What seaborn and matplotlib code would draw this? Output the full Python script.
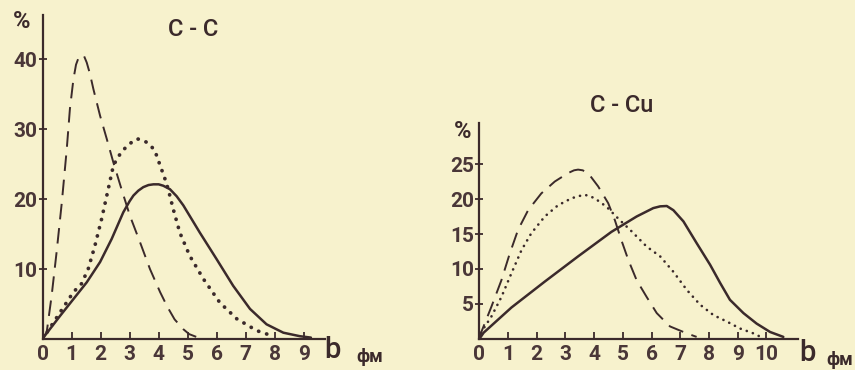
import matplotlib
matplotlib.use("Agg")
import matplotlib.pyplot as plt
import seaborn as sns
import pandas as pd

# C-C panel, impact parameter b (fm) vs percent
cc_dash_b = [0, 0.14, 0.31, 0.48, 0.66, 0.83, 0.94, 1.06, 1.15, 1.23, 1.34, 1.43, 1.52, 1.63, 1.75, 1.98,
             2.21, 2.44, 2.72, 3.01, 3.36, 3.7, 4.05, 4.3, 4.55, 4.85, 5.05, 5.3]
cc_dash_y = [0, 1.0, 6.2, 12.4, 19.5, 27.1, 32.9, 37.1, 39.2, 40.1, 40.6, 40.4, 39.5, 37.9, 35.7, 31.9,
             28.6, 25.2, 21.4, 17.6, 13.8, 10.0, 6.7, 4.6, 2.8, 1.4, 0.7, 0.3]

cc_dot_b = [0, 0.3, 0.6, 1.06, 1.34, 1.57, 1.8, 2.03, 2.26, 2.44, 2.6, 2.72, 2.87, 3.01, 3.12, 3.24, 3.4, 3.59,
            3.75, 3.87, 4.05, 4.2, 4.33, 4.5, 4.73, 5.07, 5.54, 6.11, 6.69, 7.38, 7.95]
cc_dot_y = [0, 1.9, 3.8, 6.7, 7.9, 10.0, 13.3, 17.1, 21.4, 24.8, 26.0, 26.7, 27.4, 27.9, 28.3, 28.6, 28.5, 28.1,
            27.5, 26.9, 24.8, 23.1, 21.4, 18.6, 15.2, 11.9, 8.6, 5.2, 2.9, 1.2, 0.4]

cc_solid_b = [0, 0.08, 0.6, 1.06, 1.52, 1.98, 2.38, 2.78, 3.0, 3.13, 3.3, 3.47, 3.65, 3.82, 4.0, 4.16, 4.39,
              4.62, 4.85, 5.42, 6.0, 6.57, 7.15, 7.72, 8.3, 8.87, 9.25]
cc_solid_y = [0, 0.5, 3.3, 5.7, 8.1, 11.0, 14.3, 18.1, 19.7, 20.5, 21.2, 21.7, 22.0, 22.1, 22.1, 21.9, 21.4,
              20.4, 19.1, 15.2, 11.4, 7.6, 4.3, 2.1, 0.9, 0.4, 0.2]

# C-Cu panel
ccu_dash_b = [0, 0.07, 0.42, 0.77, 1.06, 1.35, 1.7, 2.16, 2.63, 3.09, 3.3, 3.44, 3.6, 3.79, 4.14, 4.49,
              4.72, 4.95, 5.19, 5.48, 5.83, 6.18, 6.64, 7.23, 7.57]
ccu_dash_y = [0, 1.0, 4.6, 8.4, 12.2, 15.6, 18.4, 20.8, 22.5, 23.7, 24.1, 24.2, 24.1, 23.7, 21.8, 19.4,
              17.0, 14.1, 11.3, 8.4, 6.0, 3.7, 1.8, 0.8, 0.3]

ccu_dot_b = [0, 0.07, 0.42, 0.77, 1.12, 1.47, 1.81, 2.28, 2.74, 3.21, 3.45, 3.67, 3.85, 4.02, 4.43, 4.84,
             5.3, 5.83, 6.3, 6.76, 7.23, 7.69, 8.16, 8.62, 9.08, 9.55, 9.8]
ccu_dot_y = [0, 1.0, 3.2, 6.0, 9.4, 12.7, 15.1, 17.5, 19.1, 20.1, 20.4, 20.6, 20.4, 20.1, 18.9, 17.2,
             15.4, 13.2, 11.8, 9.6, 7.0, 4.9, 3.4, 2.5, 1.5, 0.8, 0.3]

ccu_solid_b = [0, 0.15, 1.12, 2.28, 3.44, 4.6, 5.48, 6.06, 6.3, 6.53, 6.76, 7.11, 7.57, 8.04, 8.39, 8.73,
               9.2, 9.66, 10.13, 10.59]
ccu_solid_y = [0, 0.9, 4.5, 8.2, 11.8, 15.3, 17.5, 18.7, 18.95, 19.0, 18.4, 16.8, 13.7, 10.6, 8.0, 5.6,
               3.7, 2.2, 1.0, 0.3]

cc_xticks = list(range(0, 10))
cc_yticks = [10, 20, 30, 40]
ccu_xticks = list(range(0, 11))
ccu_yticks = [5, 10, 15, 20, 25]

paper = "#f7f2cd"
ink = "#3b2a2b"

sns.set_style("ticks")
plt.rcParams["font.family"] = ["Roboto", "DejaVu Sans"]

fig = plt.figure(figsize=(8.55, 3.7), dpi=100, facecolor=paper)
ax1 = fig.add_axes([0.0499, 0.0838, 0.330, 0.8757])
ax2 = fig.add_axes([0.5606, 0.0838, 0.3727, 0.5838])


def draw(ax, dash, dot, solid, dot_lw, dot_gap):
    sns.lineplot(x=dash[0], y=dash[1], ax=ax, color=ink, lw=1.4, linestyle=(0, (8, 4.5)), estimator=None)
    sns.lineplot(x=dot[0], y=dot[1], ax=ax, color=ink, lw=dot_lw, linestyle=(0, (0.05, dot_gap)),
                 dash_capstyle="round", estimator=None)
    sns.lineplot(x=solid[0], y=solid[1], ax=ax, color=ink, lw=1.8, estimator=None)


draw(ax1, (cc_dash_b, cc_dash_y), (cc_dot_b, cc_dot_y), (cc_solid_b, cc_solid_y), 2.7, 2.2)
draw(ax2, (ccu_dash_b, ccu_dash_y), (ccu_dot_b, ccu_dot_y), (ccu_solid_b, ccu_solid_y), 1.9, 2.4)

for ax, xt, yt, xmax, ymax in [(ax1, cc_xticks, cc_yticks, 9.73, 46.3), (ax2, ccu_xticks, ccu_yticks, 11.1, 30.86)]:
    ax.set_facecolor(paper)
    ax.set_xlim(0, xmax)
    ax.set_ylim(0, ymax)
    ax.set_xticks(xt)
    ax.set_yticks(yt)
    ax.set_xlabel("")
    ax.set_ylabel("")
    for s in ["top", "right"]:
        ax.spines[s].set_visible(False)
    for s in ["left", "bottom"]:
        ax.spines[s].set_color(ink)
        ax.spines[s].set_linewidth(1.6)
    ax.tick_params(axis="x", direction="in", length=5, width=1.3, colors=ink, pad=4, labelsize=15)
    ax.tick_params(axis="y", direction="inout", length=6, width=1.3, colors=ink, pad=1, labelsize=15)
    for lab in ax.get_xticklabels() + ax.get_yticklabels():
        lab.set_fontweight("bold")
        lab.set_color("#4a3738")

W, H = 855, 370


def ftext(x, y, s, size, weight="bold", **kw):
    fig.text(x / W, 1 - y / H, s, fontsize=size, color=ink, fontweight=weight,
             ha="center", va="center", **kw)


ftext(193, 30, "C - C", 17, weight="medium")
ftext(622, 105, "C - Cu", 17, weight="medium")
ftext(22, 22, "%", 17)
ftext(463, 132, "%", 17)
ftext(332, 350, "b", 21, weight="medium")
ftext(807, 353, "b", 21, weight="medium")
ftext(370, 357, "фм", 13)
ftext(840, 360, "фм", 13)

fig.savefig("out.png", dpi=100, facecolor=paper)
